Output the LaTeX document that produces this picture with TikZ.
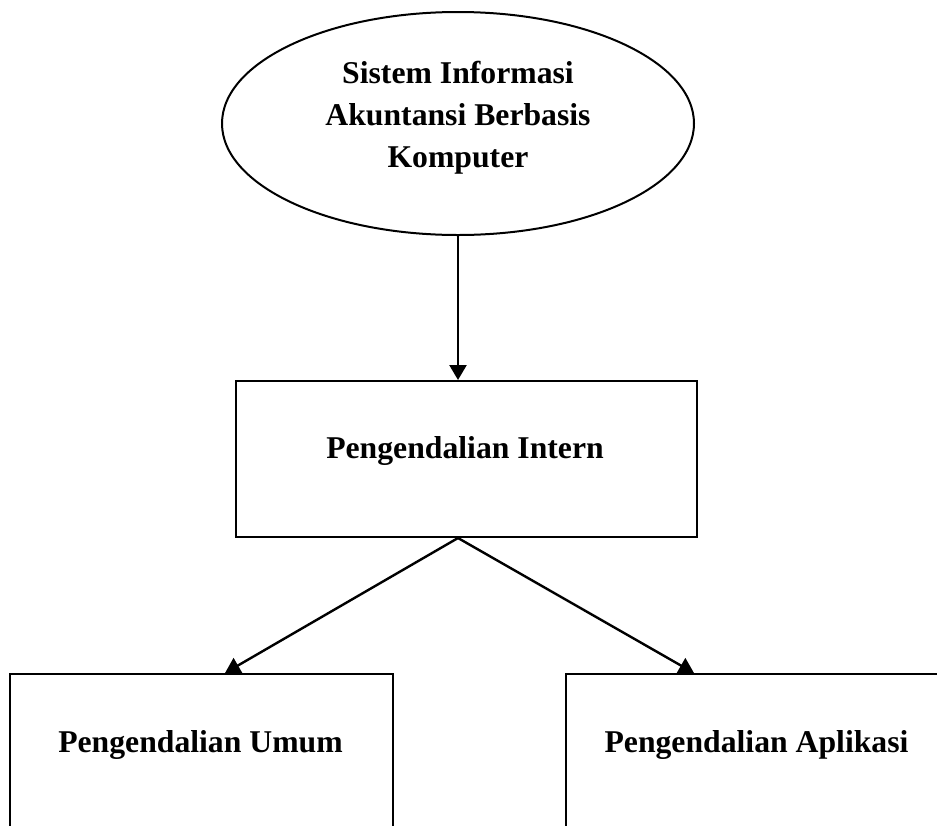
\documentclass[tikz,border=0pt]{standalone}
\usepackage{fontspec}
\setmainfont{Liberation Serif}
\usetikzlibrary{shapes.geometric,arrows.meta}
\begin{document}
\begin{tikzpicture}[x=1pt,y=-1pt,
  lbl/.style={font=\fontsize{31.7}{42}\selectfont\bfseries, align=center, inner sep=0pt},
  frame/.style={draw, line width=2pt, inner sep=0pt},
  conn/.style={line width=2.4pt, -{Triangle[width=17pt,length=15pt]}}]
\useasboundingbox (0,0) rectangle (937,825);
\clip (0,0) rectangle (937,825);
\node[frame, ellipse, minimum width=472pt, minimum height=223pt] (sia) at (458,123.5) {};
\node[lbl] (siat) at (458,117.7) {Sistem Informasi\\Akuntansi Berbasis\\Komputer};
\node[frame, rectangle, minimum width=461pt, minimum height=156pt] (intern) at (466.5,459) {};
\node[lbl] (internt) at (465,450.7) {Pengendalian Intern};
\node[frame, rectangle, minimum width=383.5pt, minimum height=206pt] (umum) at (201.25,777) {};
\node[lbl] (umumt) at (200.5,744.7) {Pengendalian Umum};
\node[frame, rectangle, minimum width=381pt, minimum height=206pt] (apl) at (756.5,777) {};
\node[lbl] (aplt) at (756.5,744.7) {Pengendalian Aplikasi};
\coordinate (split) at (sia.south |- intern.south);
\draw[conn] (sia.south) -- (sia.south |- intern.north);
\draw[conn] (split) -- ([xshift=23.75pt]umum.north);
\draw[conn] (split) -- ([xshift=-62.5pt]apl.north);
\end{tikzpicture}
\end{document}
